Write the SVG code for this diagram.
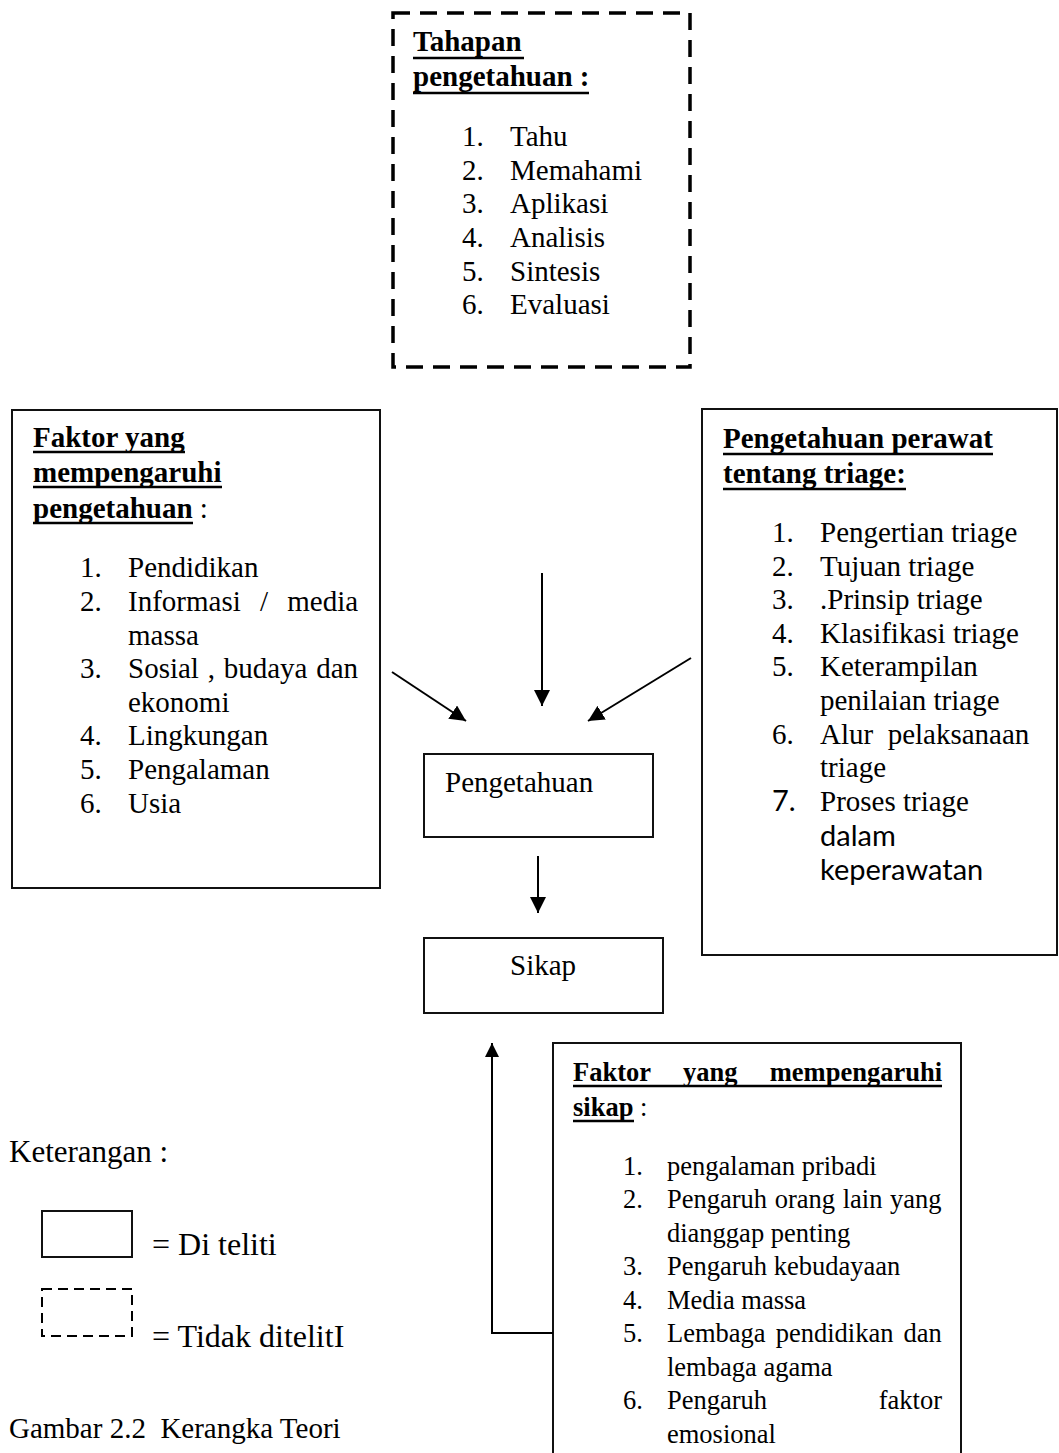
<svg xmlns="http://www.w3.org/2000/svg" width="1059" height="1453" viewBox="0 0 1059 1453">
<style>
  text { font-family: "Liberation Serif", "Times New Roman", serif; font-size: 29px; fill: #000; white-space: pre; }
  .b { font-weight: bold; }
  .sm { font-size: 26.5px; }
  .cal { font-family: Lato, "Liberation Sans", sans-serif; }
  .box { fill: #fff; stroke: #111; stroke-width: 2; }
  .dash { fill: none; stroke: #000; stroke-width: 3.5; stroke-dasharray: 17 10; }
  .ul { stroke: #000; stroke-width: 2.5; }
  .conn { fill: none; stroke: #000; stroke-width: 2; }
</style>
<defs>
  <marker id="ah" markerUnits="userSpaceOnUse" markerWidth="16" markerHeight="16" refX="16" refY="8" orient="auto">
    <path d="M0,0 L16,8 L0,16 z" fill="#000"/>
  </marker>
  <marker id="ahs" markerUnits="userSpaceOnUse" markerWidth="14" markerHeight="14" refX="14" refY="7" orient="auto">
    <path d="M0,0 L14,7 L0,14 z" fill="#000"/>
  </marker>
</defs>
<rect width="1059" height="1453" fill="#fff"/>

<g id="tahapan">
  <rect class="dash" x="393" y="13" width="297" height="354"/>
  <text class="b" x="413" y="51">Tahapan</text>
  <line class="ul" x1="413" y1="58" x2="524" y2="58"/>
  <text class="b" x="413" y="86">pengetahuan :</text>
  <line class="ul" x1="413" y1="93" x2="589" y2="93"/>
  <text x="462" y="146">1.</text><text x="510" y="146">Tahu</text>
  <text x="462" y="180">2.</text><text x="510" y="180">Memahami</text>
  <text x="462" y="213">3.</text><text x="510" y="213">Aplikasi</text>
  <text x="462" y="247">4.</text><text x="510" y="247">Analisis</text>
  <text x="462" y="281">5.</text><text x="510" y="281">Sintesis</text>
  <text x="462" y="314">6.</text><text x="510" y="314">Evaluasi</text>
</g>

<g id="faktor-pengetahuan">
  <rect class="box" x="12" y="410" width="368" height="478"/>
  <text class="b" x="33" y="447">Faktor yang</text>
  <line class="ul" x1="33" y1="452" x2="185" y2="452"/>
  <text class="b" x="33" y="482">mempengaruhi</text>
  <line class="ul" x1="33" y1="487" x2="222" y2="487"/>
  <text x="33" y="518"><tspan class="b">pengetahuan</tspan> :</text>
  <line class="ul" x1="33" y1="523" x2="193" y2="523"/>
  <text x="80" y="577">1.</text><text x="128" y="577">Pendidikan</text>
  <text x="80" y="611">2.</text><text x="128" y="611" word-spacing="12">Informasi / media</text>
  <text x="128" y="645">massa</text>
  <text x="80" y="678">3.</text><text x="128" y="678" word-spacing="1.5">Sosial , budaya dan</text>
  <text x="128" y="712">ekonomi</text>
  <text x="80" y="745">4.</text><text x="128" y="745">Lingkungan</text>
  <text x="80" y="779">5.</text><text x="128" y="779">Pengalaman</text>
  <text x="80" y="813">6.</text><text x="128" y="813">Usia</text>
</g>

<g id="pengetahuan-perawat">
  <rect class="box" x="702" y="409" width="355" height="546"/>
  <text class="b" x="723" y="448">Pengetahuan perawat</text>
  <line class="ul" x1="723" y1="454" x2="993" y2="454"/>
  <text class="b" x="723" y="483">tentang triage:</text>
  <line class="ul" x1="723" y1="489" x2="906" y2="489"/>
  <text x="772" y="542">1.</text><text x="820" y="542">Pengertian triage</text>
  <text x="772" y="576">2.</text><text x="820" y="576">Tujuan triage</text>
  <text x="772" y="609">3.</text><text x="820" y="609">.Prinsip triage</text>
  <text x="772" y="643">4.</text><text x="820" y="643">Klasifikasi triage</text>
  <text x="772" y="676">5.</text><text x="820" y="676">Keterampilan</text>
  <text x="820" y="710">penilaian triage</text>
  <text x="772" y="744">6.</text><text x="820" y="744">Alur  pelaksanaan</text>
  <text x="820" y="777">triage</text>
  <text class="cal" x="772" y="811">7.</text><text x="820" y="811">Proses triage</text>
  <text class="cal" x="820" y="846">dalam</text>
  <text class="cal" x="820" y="880">keperawatan</text>
</g>

<g id="pengetahuan">
  <rect class="box" x="424" y="754" width="229" height="83"/>
  <text x="445" y="792">Pengetahuan</text>
</g>

<g id="sikap">
  <rect class="box" x="424" y="938" width="239" height="75"/>
  <text x="510" y="975">Sikap</text>
</g>

<g id="faktor-sikap">
  <path class="box" d="M553,1460 V1043 H961 V1460"/>
  <text class="b sm" x="573" y="1081">Faktor</text>
  <text class="b sm" x="683" y="1081">yang</text>
  <text class="b sm" x="942" y="1081" text-anchor="end">mempengaruhi</text>
  <line class="ul" x1="573" y1="1086" x2="942" y2="1086"/>
  <text class="sm" x="573" y="1116"><tspan class="b">sikap</tspan> :</text>
  <line class="ul" x1="573" y1="1121" x2="634" y2="1121"/>
  <text class="sm" x="623" y="1175">1.</text><text class="sm" x="667" y="1175">pengalaman pribadi</text>
  <text class="sm" x="623" y="1208">2.</text><text class="sm" x="667" y="1208" word-spacing="1">Pengaruh orang lain yang</text>
  <text class="sm" x="667" y="1242">dianggap penting</text>
  <text class="sm" x="623" y="1275">3.</text><text class="sm" x="667" y="1275">Pengaruh kebudayaan</text>
  <text class="sm" x="623" y="1309">4.</text><text class="sm" x="667" y="1309">Media massa</text>
  <text class="sm" x="623" y="1342">5.</text><text class="sm" x="667" y="1342" word-spacing="3.5">Lembaga pendidikan dan</text>
  <text class="sm" x="667" y="1376">lembaga agama</text>
  <text class="sm" x="623" y="1409">6.</text><text class="sm" x="667" y="1409">Pengaruh</text>
  <text class="sm" x="942" y="1409" text-anchor="end">faktor</text>
  <text class="sm" x="667" y="1443">emosional</text>
</g>

<g id="connectors">
  <line class="conn" x1="542" y1="573" x2="542" y2="706" marker-end="url(#ah)"/>
  <line class="conn" x1="392" y1="672" x2="466" y2="721" marker-end="url(#ah)"/>
  <line class="conn" x1="691" y1="658" x2="588" y2="721" marker-end="url(#ah)"/>
  <line class="conn" x1="538" y1="856" x2="538" y2="913" marker-end="url(#ah)"/>
  <path class="conn" d="M553,1333 H492 V1043" marker-end="url(#ahs)"/>
</g>

<g id="legend">
  <text x="9" y="1162" style="font-size:31px">Keterangan :</text>
  <rect x="42" y="1211" width="90" height="46" fill="none" stroke="#111" stroke-width="2"/>
  <text x="152" y="1255" style="font-size:32px">= Di teliti</text>
  <rect x="42" y="1289" width="90" height="47" fill="none" stroke="#000" stroke-width="2" stroke-dasharray="10 6"/>
  <text x="152" y="1347" style="font-size:32px">= Tidak ditelitI</text>
  <text x="9" y="1438">Gambar 2.2  Kerangka Teori</text>
</g>
</svg>
